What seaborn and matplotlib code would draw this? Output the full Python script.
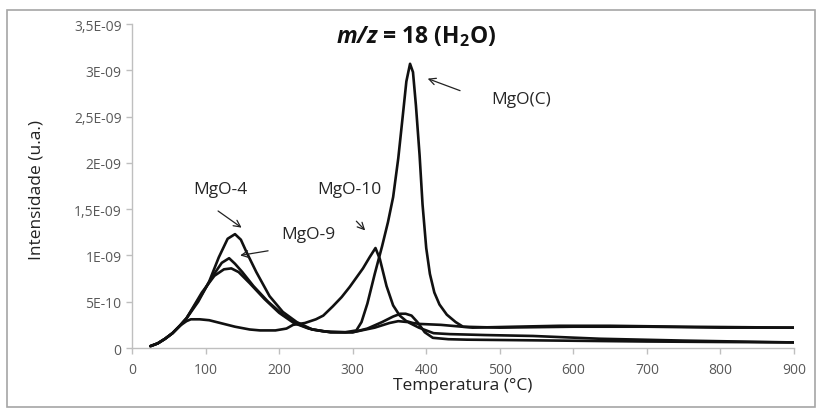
import matplotlib
matplotlib.use("Agg")
import matplotlib.pyplot as plt
import seaborn as sns
import pandas as pd
from matplotlib.patches import Rectangle

# Temperature (°C) and intensity (×1E-09 u.a.) for each sample, m/z = 18
t_mgo4 = [25, 35, 45, 55, 65, 74, 90, 105, 118, 130, 140, 148, 156, 169, 187, 205, 224, 245,
          270, 300, 320, 340, 355, 365, 372, 380, 388, 398, 409, 430, 455, 520, 580, 700, 800, 900]
i_mgo4 = [0.02, 0.05, 0.10, 0.16, 0.24, 0.32, 0.50, 0.72, 0.98, 1.18, 1.23, 1.17, 1.03, 0.82, 0.56, 0.39, 0.28, 0.20,
          0.17, 0.17, 0.21, 0.28, 0.34, 0.37, 0.37, 0.35, 0.28, 0.17, 0.11, 0.095, 0.09, 0.085, 0.08, 0.07, 0.065, 0.06]

t_mgo9 = [25, 35, 45, 55, 65, 74, 95, 110, 122, 132, 140, 150, 165, 185, 205, 225, 245, 270,
          300, 330, 350, 362, 375, 390, 410, 432, 480, 545, 636, 750, 900]
i_mgo9 = [0.02, 0.05, 0.10, 0.16, 0.24, 0.32, 0.58, 0.78, 0.92, 0.97, 0.91, 0.82, 0.67, 0.50, 0.36, 0.26, 0.20, 0.17,
          0.17, 0.22, 0.27, 0.29, 0.28, 0.22, 0.16, 0.15, 0.14, 0.13, 0.10, 0.08, 0.06]

t_mgo10 = [25, 35, 45, 55, 65, 74, 80, 92, 105, 120, 140, 160, 174, 195, 210, 219, 235, 250, 260,
           273, 285, 296, 305, 314, 323, 331, 337, 346, 355, 364, 373, 382, 391, 420, 463, 520, 581,
           650, 750, 900]
i_mgo10 = [0.02, 0.05, 0.10, 0.16, 0.24, 0.29, 0.31, 0.31, 0.30, 0.27, 0.23, 0.20, 0.19, 0.19, 0.21, 0.25, 0.27, 0.31, 0.35,
           0.45, 0.55, 0.66, 0.76, 0.86, 0.98, 1.08, 0.96, 0.67, 0.46, 0.35, 0.29, 0.27, 0.26, 0.25, 0.22, 0.23, 0.24,
           0.24, 0.23, 0.22]

t_mgoc = [25, 35, 45, 55, 65, 74, 95, 112, 125, 135, 145, 160, 180, 200, 220, 240, 260, 290, 305,
          312, 320, 330, 340, 348, 355, 362, 368, 373, 378, 382, 386, 391, 395, 400, 405, 411, 418,
          428, 440, 450, 500, 600, 700, 800, 900]
i_mgoc = [0.02, 0.05, 0.10, 0.16, 0.24, 0.32, 0.60, 0.78, 0.85, 0.86, 0.82, 0.70, 0.53, 0.38, 0.27, 0.21, 0.18, 0.17, 0.19,
          0.28, 0.48, 0.80, 1.10, 1.36, 1.63, 2.05, 2.50, 2.88, 3.07, 2.98, 2.62, 2.08, 1.55, 1.08, 0.80, 0.60, 0.47,
          0.36, 0.28, 0.23, 0.22, 0.23, 0.23, 0.22, 0.22]

samples = ["MgO-4", "MgO-9", "MgO-10", "MgO(C)"]
series = [(t_mgo4, i_mgo4), (t_mgo9, i_mgo9), (t_mgo10, i_mgo10), (t_mgoc, i_mgoc)]

y_ticks = [0, 0.5e-9, 1e-9, 1.5e-9, 2e-9, 2.5e-9, 3e-9, 3.5e-9]
y_tick_labels = ["0", "5E-10", "1E-09", "1,5E-09", "2E-09", "2,5E-09", "3E-09", "3,5E-09"]
x_ticks = [0, 100, 200, 300, 400, 500, 600, 700, 800, 900]

rows = []
for name, (ts, vs) in zip(samples, series):
    for t, v in zip(ts, vs):
        rows.append({"amostra": name, "T": t, "I": v * 1e-9})
df = pd.DataFrame(rows)

sns.set_theme(style="white")
plt.rcParams["font.family"] = ["Open Sans", "DejaVu Sans"]
plt.rcParams["mathtext.fontset"] = "custom"
plt.rcParams["mathtext.rm"] = "Open Sans"
plt.rcParams["mathtext.it"] = "Open Sans:italic"
plt.rcParams["mathtext.bf"] = "Open Sans:bold"
plt.rcParams["mathtext.bfit"] = "Open Sans:italic:bold"

fig = plt.figure(figsize=(8.21, 4.14), dpi=100)
ax = fig.add_axes([0.1608, 0.157, 0.8063, 0.7826])

sns.lineplot(data=df, x="T", y="I", hue="amostra", palette={s: "#111111" for s in samples},
             sort=False, estimator=None, legend=False, linewidth=1.9, ax=ax)

ax.set_xlim(0, 900)
ax.set_ylim(0, 3.5e-9)
ax.set_xticks(x_ticks)
ax.set_xticklabels([str(x) for x in x_ticks])
ax.set_yticks(y_ticks)
ax.set_yticklabels(y_tick_labels)
ax.tick_params(axis="both", which="major", labelsize=10, labelcolor="#595959",
               color="#bfbfbf", length=4, width=1, direction="out", left=True, bottom=True)
ax.tick_params(axis="x", pad=6)
for side in ["top", "right"]:
    ax.spines[side].set_visible(False)
for side in ["left", "bottom"]:
    ax.spines[side].set_color("#bfbfbf")
    ax.spines[side].set_linewidth(1)

ax.set_xlabel("Temperatura (°C)", fontsize=12.5, color="#222222")
ax.set_ylabel("Intensidade (u.a.)", fontsize=12.5, color="#222222")
ax.xaxis.set_label_coords(0.5, -0.088)
ax.yaxis.set_label_coords(-0.132, 0.49)

ax.text(386, 3.37e-9, r"$\mathbfit{m/z}$ = 18 (H$_\mathbf{2}$O)", fontsize=16.5, fontweight="bold",
        ha="center", va="center", color="#111111")

arrow = dict(arrowstyle="->", color="#222222", lw=0.9, shrinkA=0, shrinkB=0)
box = dict(boxstyle="square,pad=0.15", fc="white", ec="none")
ax.annotate("", xy=(149, 1.30e-9), xytext=(117, 1.48e-9), arrowprops=arrow)
ax.text(120, 1.72e-9, "MgO-4", fontsize=12.5, ha="center", va="center", bbox=box)
ax.annotate("", xy=(147, 1.00e-9), xytext=(185, 1.05e-9), arrowprops=arrow)
ax.text(240, 1.23e-9, "MgO-9", fontsize=12.5, ha="center", va="center", bbox=box)
ax.annotate("", xy=(317, 1.27e-9), xytext=(305, 1.37e-9), arrowprops=arrow)
ax.text(296, 1.72e-9, "MgO-10", fontsize=12.5, ha="center", va="center", bbox=box)
ax.annotate("", xy=(402, 2.91e-9), xytext=(446, 2.78e-9), arrowprops=arrow)
ax.text(529, 2.69e-9, "MgO(C)", fontsize=12.5, ha="center", va="center", bbox=box)

fig.patches.append(Rectangle((7 / 821, 1 - 408 / 414), 808 / 821, 397 / 414,
                             transform=fig.transFigure, fill=False, ec="#a6a6a6", lw=1.2))

fig.savefig("out.png", dpi=100)
